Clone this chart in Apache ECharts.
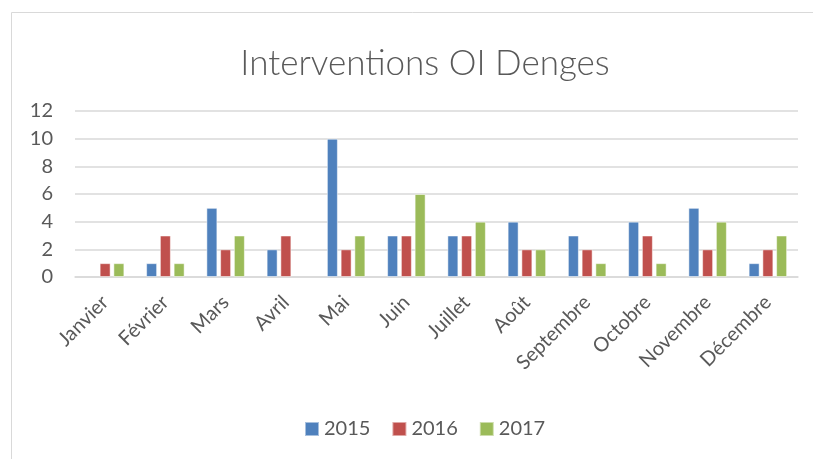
<!DOCTYPE html>
<html>
<head>
<meta charset="utf-8">
<script src="https://cdn.jsdelivr.net/npm/echarts@6/dist/echarts.min.js"></script>
<style>
  html, body { margin: 0; padding: 0; background: #fff; }
  #chart { width: 813px; height: 459px; }
</style>
</head>
<body>
<div id="chart"></div>
<script>
// donnees
var mois = ['Janvier', 'Février', 'Mars', 'Avril', 'Mai', 'Juin', 'Juillet', 'Août', 'Septembre', 'Octobre', 'Novembre', 'Décembre'];
var annees = ['2015', '2016', '2017'];
var val2015 = [null, 1, 5, 2, 10, 3, 3, 4, 3, 4, 5, 1];
var val2016 = [1, 3, 2, 3, 2, 3, 3, 2, 2, 3, 2, 2];
var val2017 = [1, 1, 3, null, 3, 6, 4, 2, 1, 1, 4, 3];
var couleurs = ['#4F81BD', '#C0504D', '#9BBB59'];

var police = 'Lato, "Open Sans", sans-serif';

function serie(nom, data, i) {
  return {
    name: nom,
    type: 'bar',
    data: data,
    barWidth: 11,
    barGap: '25%',
    itemStyle: { color: couleurs[i], borderColor: 'rgba(255,255,255,0.5)', borderWidth: 1 }
  };
}

var myChart = echarts.init(document.getElementById('chart'));
myChart.setOption({
  animation: false,
  textStyle: { fontFamily: police },
  graphic: [{
    type: 'rect',
    shape: { x: 11.5, y: 12.5, width: 900, height: 600 },
    style: { fill: 'none', stroke: '#d9d9d9', lineWidth: 1 },
    silent: true
  }],
  title: {
    text: 'Interventions OI Denges',
    left: 420,
    textAlign: 'center',
    top: 41,
    textStyle: { fontFamily: police, fontWeight: 300, fontSize: 35, color: '#595959' }
  },
  legend: {
    data: annees,
    bottom: 15,
    left: 299,
    itemWidth: 14,
    itemHeight: 14,
    itemGap: 21,
    icon: 'rect',
    textStyle: { fontFamily: police, fontSize: 20, color: '#595959' }
  },
  grid: { left: 75, right: 15, top: 111, bottom: 182, containLabel: false },
  xAxis: {
    type: 'category',
    data: mois,
    axisTick: { show: false },
    axisLine: { lineStyle: { color: '#d9d9d9', width: 1.5 } },
    axisLabel: { rotate: 45, fontSize: 20, color: '#595959', margin: 22, interval: 0 }
  },
  yAxis: {
    type: 'value',
    min: 0,
    max: 12,
    interval: 2,
    axisLine: { show: false },
    axisTick: { show: false },
    axisLabel: { fontSize: 20, color: '#595959', margin: 22 },
    splitLine: { lineStyle: { color: '#d9d9d9', width: 1.5 } }
  },
  series: [
    serie(annees[0], val2015, 0),
    serie(annees[1], val2016, 1),
    serie(annees[2], val2017, 2)
  ]
});
</script>
</body>
</html>
